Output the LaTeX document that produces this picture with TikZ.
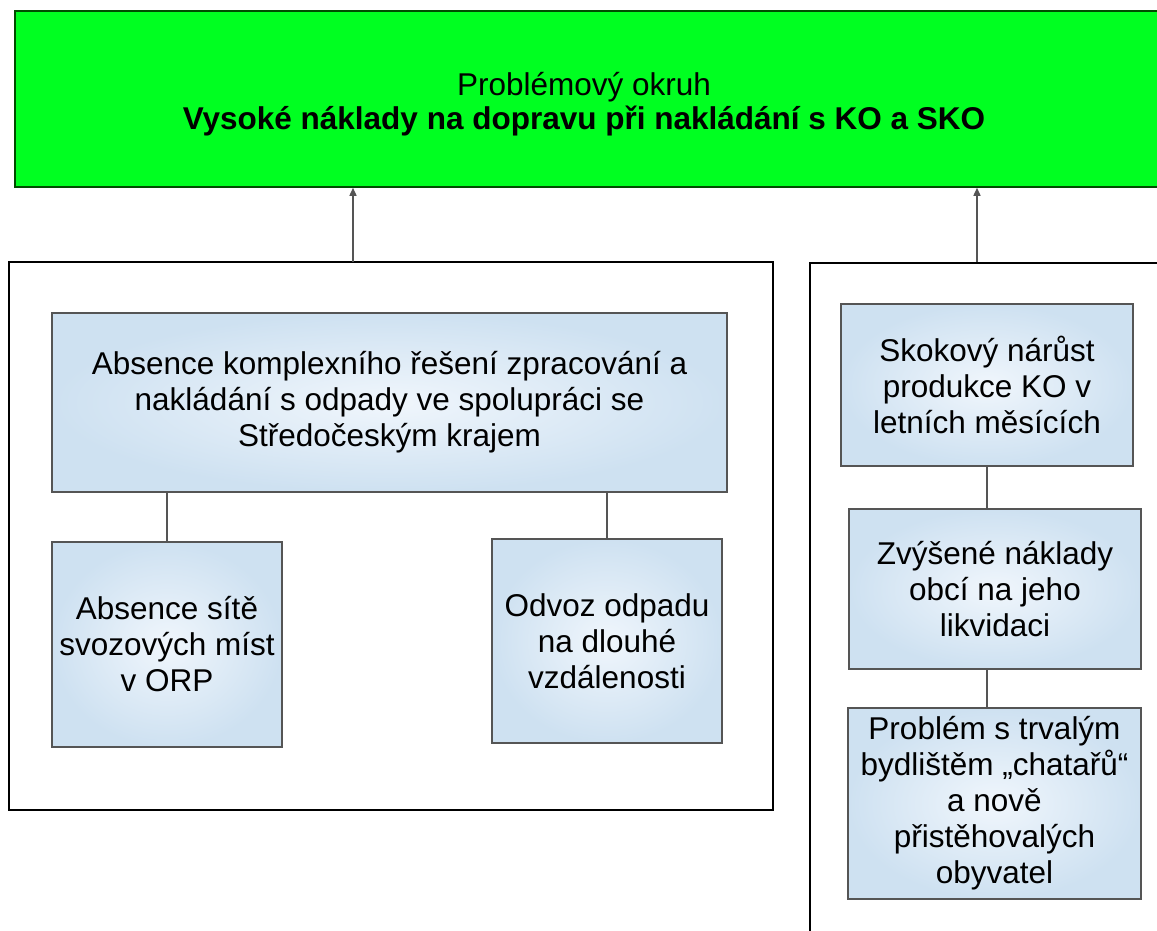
\documentclass[tikz,border=0pt]{standalone}
\usepackage{fontspec}
\setmainfont{Liberation Sans}
\usepackage{tikz}
\usetikzlibrary{arrows.meta}

\definecolor{okruhgreen}{RGB}{0,255,33}
\definecolor{boxblueout}{RGB}{206,225,241}
\definecolor{boxbluein}{RGB}{240,246,252}
\definecolor{linegray}{RGB}{85,85,85}

\begin{document}
\begin{tikzpicture}[x=1pt,y=-1pt,
  cause/.style={draw=linegray, line width=1.4pt, shading=radial, inner color=boxbluein, outer color=boxblueout,
    align=center, inner sep=0pt, font=\fontsize{31.5}{36}\selectfont},
  frame/.style={draw=black, line width=1.8pt, inner sep=0pt},
  link/.style={draw=linegray, line width=1.4pt}]
\useasboundingbox (0,0) rectangle (1157,930);
% problem area
\node[draw=black!70!green, line width=1.5pt, fill=okruhgreen, minimum width=1150, minimum height=176] (okruh) at (590,99) {};
\node[align=center, font=\fontsize{31.5}{34}\selectfont] (okruhtext) at (584,104)
  {Problémový okruh\\{\bfseries Vysoké náklady na dopravu při nakládání s KO a SKO}};
% frames
\node[frame, minimum width=764, minimum height=548] (levy) at (391,536) {};
\node[frame, minimum width=360, minimum height=682] (pravy) at (990,604) {};
% causes, left
\node[cause, minimum width=675, minimum height=179] (komplex) at (389.5,402.5)
  {Absence komplexního řešení zpracování a\\nakládání s odpady ve spolupráci se\\Středočeským krajem};
\node[cause, minimum width=230, minimum height=205] (site) at (167,644.5)
  {Absence sítě\\svozových míst\\v ORP};
\node[cause, minimum width=230, minimum height=204] (odvoz) at (607,641)
  {Odvoz odpadu\\na dlouhé\\vzdálenosti};
% causes, right
\node[cause, minimum width=292, minimum height=162] (skokovy) at (987,385)
  {Skokový nárůst\\produkce KO v\\letních měsících};
\node[cause, minimum width=292, minimum height=160] (zvysene) at (995,589)
  {Zvýšené náklady\\obcí na jeho\\likvidaci};
\node[cause, minimum width=293, minimum height=191] (problem) at (994.5,803.5)
  {Problém s trvalým\\bydlištěm „chatařů“\\a nově\\přistěhovalých\\obyvatel};
% connectors
\coordinate (ls) at (353,262);
\coordinate (rs) at (977,262);
\draw[link, -{Triangle[length=8pt,width=7pt]}] (ls) -- (ls |- okruh.south);
\draw[link, -{Triangle[length=8pt,width=7pt]}] (rs) -- (rs |- okruh.south);
\draw[link] (komplex.south -| site.north) -- (site.north);
\draw[link] (komplex.south -| odvoz.north) -- (odvoz.north);
\draw[link] (skokovy.south) -- (skokovy.south |- zvysene.north);
\draw[link] (zvysene.south -| skokovy.south) -- (skokovy.south |- problem.north);
\end{tikzpicture}
\end{document}
